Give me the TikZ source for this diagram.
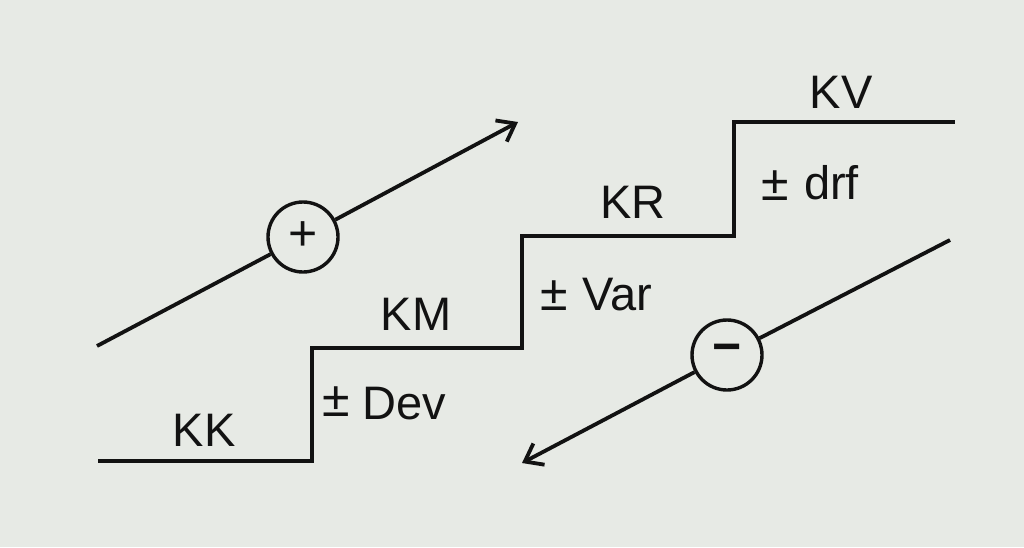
\documentclass[tikz,border=0pt]{standalone}
\usepackage{fontspec}
\setmainfont{Liberation Sans}
\usetikzlibrary{arrows.meta}
\definecolor{paper}{RGB}{231,234,229}
\definecolor{ink}{RGB}{18,18,18}
\begin{document}
\begin{tikzpicture}[x=1pt,y=-1pt,
  ln/.style={line width=3.8pt,draw=ink},
  lbl/.style={text=ink,font=\fontsize{47}{54}\selectfont,inner sep=0pt,anchor=base},
  pm/.style={text=ink,font=\fontsize{50}{56}\selectfont,inner sep=0pt},
  sgn/.style={circle,draw=ink,line width=3.4pt,minimum size=70pt,inner sep=0pt,text=ink,font=\fontsize{50}{56}\selectfont},
  tip/.style={-{Straight Barb[length=16pt,width=24pt,line width=3.8pt]}}]
\fill[paper] (0,0) rectangle (1024,547);
\useasboundingbox (0,0) rectangle (1024,547);
% staircase
\coordinate (s0) at (98,461);
\coordinate (s1) at (312,461);
\coordinate (s2) at (312,348);
\coordinate (s3) at (522,348);
\coordinate (s4) at (522,236);
\coordinate (s5) at (734,236);
\coordinate (s6) at (734,122);
\coordinate (s7) at (955,122);
\draw[ln,line join=miter] (s0) -- (s1) -- (s2) -- (s3) -- (s4) -- (s5) -- (s6) -- (s7);
% labels
\node[lbl] (kk) at (204,446) {KK};
\node[lbl] (km) at (416,330) {KM};
\node[lbl] (kr) at (633,218) {KR};
\node[lbl] (kv) at (841,108) {KV};
\node[pm] (pm1) at (336,402) {±};
\node[lbl,anchor=base west] (dev) at (362,419) {Dev};
\node[pm] (pm2) at (554,296) {±};
\node[lbl,anchor=base west] (var) at (582,310) {Var};
\node[pm] (pm3) at (775,186) {±};
\node[lbl,anchor=base west] (drf) at (804,199) {drf};
% plus arrow
\coordinate (pa) at (97,346);
\node[sgn] (plus) at (303,237) {\raisebox{2pt}{+}};
\coordinate (pb) at (518,122);
\draw[ln] (pa) -- (plus);
\draw[ln,tip] (plus) -- (pb);
% minus arrow
\coordinate (ma) at (950,240);
\node[sgn] (minus) at (727,355) {\raisebox{3pt}{\textbf{−}}};
\coordinate (mb) at (522,463);
\draw[ln] (ma) -- (minus);
\draw[ln,tip] (minus) -- (mb);
\end{tikzpicture}
\end{document}
